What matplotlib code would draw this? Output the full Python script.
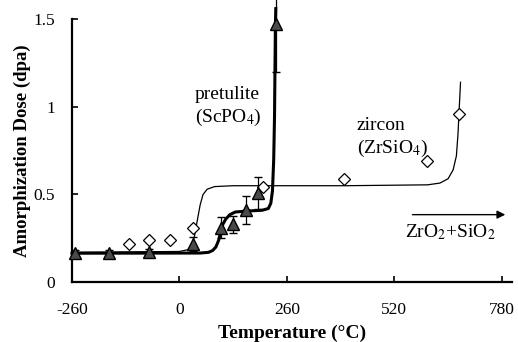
import numpy as np
import matplotlib.pyplot as plt

plt.rcParams['font.family'] = ['Liberation Serif', 'DejaVu Serif']
plt.rcParams['mathtext.fontset'] = 'stix'

# pretulite (ScPO4) measured doses
pre_T = [-253, -170, -74, 33, 100, 129, 161, 190, 234]
pre_D = [0.165, 0.166, 0.17, 0.22, 0.31, 0.33, 0.41, 0.51, 1.47]
pre_err = [0.02, 0.02, 0.02, 0.04, 0.06, 0.05, 0.08, 0.09, 0.27]

# zircon (ZrSiO4) measured doses
zir_T = [-122, -74, -23, 33, 202, 398, 599, 676]
zir_D = [0.22, 0.24, 0.24, 0.31, 0.54, 0.59, 0.69, 0.96]

# fitted curves
pre_fit_T = [-260, 50, 70, 80, 88, 95, 100, 105, 112, 122, 135, 160, 200, 215,
             221, 225, 228, 230, 231, 232, 233]
pre_fit_D = [0.165, 0.166, 0.17, 0.18, 0.2, 0.24, 0.29, 0.33, 0.36, 0.385, 0.40,
             0.405, 0.41, 0.42, 0.45, 0.52, 0.7, 0.95, 1.2, 1.45, 1.56]
zir_fit_T = [-260, 0, 20, 30, 37, 43, 50, 57, 67, 85, 130, 400, 600, 630, 650,
             662, 670, 674, 677, 680]
zir_fit_D = [0.17, 0.175, 0.185, 0.21, 0.27, 0.35, 0.44, 0.50, 0.53, 0.545, 0.55,
             0.55, 0.555, 0.565, 0.59, 0.64, 0.72, 0.85, 1.0, 1.14]

fig = plt.figure(figsize=(5.18, 3.42), dpi=100)
ax = fig.add_axes([0.139, 0.175, 0.849, 0.769])

ax.plot(zir_fit_T, zir_fit_D, color='black', lw=0.9)
ax.plot(pre_fit_T, pre_fit_D, color='black', lw=2.2, clip_on=False)

ax.plot(zir_T, zir_D, linestyle='none', marker='D', ms=6.5, mfc='white',
        mec='black', mew=0.9, zorder=4)
ax.errorbar(pre_T, pre_D, yerr=pre_err, fmt='^', ms=8, mfc='#4a4a4a', mec='black',
            mew=1.0, ecolor='black', elinewidth=0.9, capsize=3, capthick=0.9,
            zorder=5, clip_on=False)

ax.set_xlim(-260, 804)
ax.set_ylim(0, 1.5)
ax.set_xticks([-260, 0, 260, 520, 780])
ax.set_xticklabels(['-260', '0', '260', '520', '780'])
ax.set_yticks([0, 0.5, 1, 1.5])
ax.set_yticklabels(['0', '0.5', '1', '1.5'])
ax.tick_params(direction='in', length=4, width=1.2, labelsize=12.5)
ax.tick_params(axis='x', pad=14)
ax.tick_params(axis='y', pad=12)
for s in ['top', 'right']:
    ax.spines[s].set_visible(False)
for s in ['left', 'bottom']:
    ax.spines[s].set_linewidth(1.6)

ax.set_xlabel('Temperature (°C)', fontsize=14, fontweight='bold', labelpad=5)
ax.set_ylabel('Amorphization Dose (dpa)', fontsize=13.5, fontweight='bold', labelpad=2)

ax.text(37, 1.0, 'pretulite\n(ScPO$_4$)', fontsize=14, ha='left', va='center',
        linespacing=1.25)
ax.text(429, 0.82, 'zircon\n(ZrSiO$_4$)', fontsize=14, ha='left', va='center',
        linespacing=1.25)
ax.text(545, 0.285, 'ZrO$_2$+SiO$_2$', fontsize=14, ha='left', va='center')
ax.annotate('', xy=(795, 0.385), xytext=(557, 0.385),
            arrowprops=dict(arrowstyle='-|>', color='black', lw=1.0,
                            mutation_scale=12), annotation_clip=False)

fig.savefig('out.png', dpi=100)
